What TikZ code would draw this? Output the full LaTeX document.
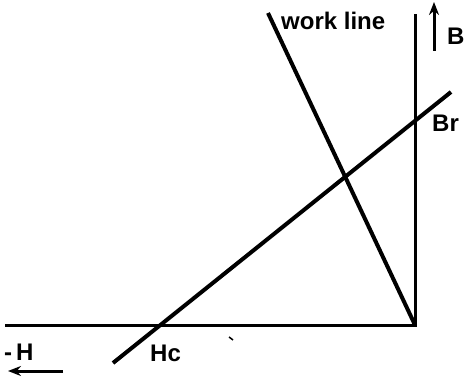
\documentclass[tikz,border=0pt]{standalone}
\usepackage{fontspec}
\setmainfont{Liberation Sans}
\usetikzlibrary{arrows.meta}
\tikzset{
  thickline/.style={line width=4pt},
  axisline/.style={line width=3pt},
  lbl/.style={font=\fontsize{24}{24}\selectfont\bfseries, inner sep=0pt, anchor=base west},
  arrowline/.style={line width=3pt, -{Stealth[length=13pt,width=10pt]}}
}
\begin{document}
\begin{tikzpicture}[x=1pt,y=-1pt]
\useasboundingbox (0,0) rectangle (465,379);
% axes
\coordinate (O) at (415,325);
\coordinate (Htop) at (415,14);
\coordinate (Hleft) at (5,325);
\draw[axisline] (Hleft) -- (O) -- (Htop);
% work line
\coordinate (W1) at (268,13);
\draw[thickline] (W1) -- (O);
% recoil line
\coordinate (R1) at (113,363);
\coordinate (R2) at (451,92);
\draw[thickline] (R1) -- (R2);
% arrows
\coordinate (Bb) at (434,51);
\coordinate (Bt) at (434,2);
\draw[arrowline] (Bb) -- (Bt);
\coordinate (Hr) at (63,371);
\coordinate (Hl) at (8,371);
\draw[arrowline] (Hr) -- (Hl);
% speck
\coordinate (s1) at (229,337);
\coordinate (s2) at (233,340);
\draw[line width=1.5pt] (s1) -- (s2);
% labels
\node[lbl] (wl) at (281,30) {work line};
\node[lbl] (B) at (447,45) {B};
\node[lbl] (Br) at (432,132) {Br};
\node[lbl] (Hc) at (150,361) {Hc};
\node[lbl] (mH) at (4,360) {-\kern4pt H};
\end{tikzpicture}
\end{document}
